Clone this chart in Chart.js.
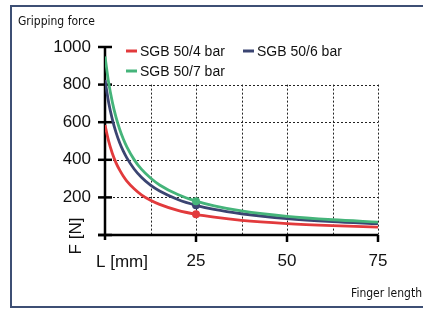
<!DOCTYPE html>
<html>
<head>
<meta charset="utf-8">
<script src="https://cdn.jsdelivr.net/npm/chart.js@4/dist/chart.umd.min.js"></script>
<style>
  html, body { margin: 0; padding: 0; background: #fff; overflow: hidden; }
  #wrap { width: 423px; height: 309px; }
</style>
</head>
<body>
<div id="wrap"><canvas id="c" width="423" height="309"></canvas></div>
<script>
// ---- data ----
const fingerLengths = [0, 1, 2, 3, 4, 5, 6, 8, 10, 12.5, 15, 20, 25, 30, 37.5, 50, 62.5, 75];
const sgb4bar = [585, 499, 435, 385, 346, 314, 287, 246, 214, 185, 163, 131, 110, 95, 78, 61, 50, 42];
const sgb6bar = [824, 705, 616, 547, 492, 447, 410, 351, 307, 265, 234, 189, 158, 136, 113, 87, 71, 60];
const sgb7bar = [950, 811, 708, 628, 564, 512, 469, 401, 350, 303, 266, 215, 180, 155, 128, 99, 81, 69];
const seriesNames = ['SGB 50/4 bar', 'SGB 50/6 bar', 'SGB 50/7 bar'];
const markedLength = 25;
const xTicks = [0, 25, 50, 75];
const yTicks = [0, 200, 400, 600, 800, 1000];
const gridXValues = [12.5, 25, 37.5, 50, 62.5, 75];
const gridYValues = [200, 400, 600, 800];
const gridTop = 800;
const titleText = 'Gripping force';
const xAxisCaption = 'L [mm]';
const yAxisCaption = 'F [N]';
const footerText = 'Finger length';

const colors = ['#e23a3c', '#3b4572', '#45b47a'];
const tickFont = '17px "Liberation Sans", Arial, sans-serif';

function toPoints(vals) { return fingerLengths.map((x, i) => ({ x: x, y: vals[i] })); }
function markerRadii() { return fingerLengths.map(x => x === markedLength ? 4 : 0); }

const decor = {
  id: 'decor',
  beforeDraw(chart) {
    const ctx = chart.ctx;
    ctx.save();
    ctx.fillStyle = '#fff';
    ctx.fillRect(0, 0, chart.width, chart.height);
    // frame: top, left and bottom edges only (open on the right)
    ctx.fillStyle = '#3d4f74';
    ctx.fillRect(10, 5, 413, 2);
    ctx.fillRect(10, 5, 2, 303);
    ctx.fillRect(10, 306, 413, 2);
    ctx.fillStyle = '#111';
    ctx.font = '12px "Liberation Sans Narrow", "DejaVu Sans Condensed", sans-serif';
    ctx.textBaseline = 'alphabetic';
    ctx.textAlign = 'left';
    ctx.fillText(titleText, 18, 25);
    ctx.textAlign = 'right';
    ctx.fillText(footerText, 422, 297);
    ctx.restore();
  },
  beforeDatasetsDraw(chart) {
    const ctx = chart.ctx;
    const xs = chart.scales.x, ys = chart.scales.y;
    const x0 = xs.getPixelForValue(0), x1 = xs.getPixelForValue(75);
    const y0 = ys.getPixelForValue(0), yTop = ys.getPixelForValue(gridTop);
    ctx.save();
    ctx.strokeStyle = '#222';
    ctx.lineWidth = 1;
    ctx.setLineDash([2, 2]);
    gridYValues.forEach(v => {
      const y = Math.round(ys.getPixelForValue(v)) + 0.5;
      ctx.beginPath(); ctx.moveTo(x0, y); ctx.lineTo(x1, y); ctx.stroke();
    });
    gridXValues.forEach(v => {
      const x = Math.round(xs.getPixelForValue(v)) + 0.5;
      ctx.beginPath(); ctx.moveTo(x, yTop); ctx.lineTo(x, y0); ctx.stroke();
    });
    ctx.setLineDash([]);
    ctx.strokeStyle = '#000';
    ctx.lineWidth = 2.5;
    ctx.beginPath();
    ctx.moveTo(x0, ys.getPixelForValue(1000));
    ctx.lineTo(x0, y0 + 5);
    ctx.moveTo(x0 - 7, y0);
    ctx.lineTo(x1, y0);
    ctx.stroke();
    yTicks.forEach(v => {
      const y = ys.getPixelForValue(v);
      ctx.beginPath(); ctx.moveTo(x0 - 7, y); ctx.lineTo(x0 + 7, y); ctx.stroke();
    });
    xTicks.forEach(v => {
      if (v === 0) return;
      const x = xs.getPixelForValue(v);
      ctx.beginPath(); ctx.moveTo(x, y0); ctx.lineTo(x, y0 + 7); ctx.stroke();
    });
    ctx.restore();
  },
  afterDraw(chart) {
    const ctx = chart.ctx;
    const xs = chart.scales.x, ys = chart.scales.y;
    const x0 = xs.getPixelForValue(0), y0 = ys.getPixelForValue(0);
    ctx.save();
    ctx.font = '14px "Liberation Sans", Arial, sans-serif';
    ctx.textBaseline = 'middle';
    ctx.textAlign = 'left';
    const items = [
      { i: 0, x: x0 + 21, y: 51 },
      { i: 1, x: x0 + 138, y: 51 },
      { i: 2, x: x0 + 21, y: 71 }
    ];
    items.forEach(it => {
      ctx.strokeStyle = colors[it.i];
      ctx.lineWidth = 3;
      ctx.beginPath(); ctx.moveTo(it.x, it.y); ctx.lineTo(it.x + 11, it.y); ctx.stroke();
      ctx.fillStyle = '#111';
      ctx.fillText(seriesNames[it.i], it.x + 14, it.y + 1);
    });
    ctx.font = tickFont;
    ctx.fillStyle = '#111';
    ctx.textAlign = 'center';
    ctx.textBaseline = 'middle';
    ctx.fillText(xAxisCaption, x0 + 17, y0 + 27);
    ctx.translate(76, y0 + 1);
    ctx.rotate(-Math.PI / 2);
    ctx.fillText(yAxisCaption, 0, 0);
    ctx.restore();
  }
};

const datasets = [sgb7bar, sgb6bar, sgb4bar].map((vals, k) => {
  const i = 2 - k;
  return {
    label: seriesNames[i],
    data: toPoints(vals),
    borderColor: colors[i],
    backgroundColor: colors[i],
    borderWidth: 2.8,
    pointRadius: markerRadii(),
    pointBorderWidth: 0,
    pointHoverRadius: 0,
    cubicInterpolationMode: 'monotone',
    fill: false
  };
});

new Chart(document.getElementById('c'), {
  type: 'line',
  data: { datasets: datasets },
  plugins: [decor],
  options: {
    responsive: false,
    animation: false,
    events: [],
    layout: { padding: { left: 0, right: 45, top: 47, bottom: 34 } },
    plugins: { legend: { display: false }, tooltip: { enabled: false }, title: { display: false } },
    scales: {
      x: {
        type: 'linear', min: 0, max: 75,
        afterBuildTicks: s => { s.ticks = xTicks.map(v => ({ value: v })); },
        afterFit: s => { s.height = 40; },
        grid: { display: false, drawTicks: false, tickLength: 0 },
        border: { display: false },
        ticks: {
          padding: 16, color: '#111', font: { family: '"Liberation Sans", Arial, sans-serif', size: 17 },
          maxRotation: 0, autoSkip: false,
          callback: v => v === 0 ? '' : String(v)
        }
      },
      y: {
        type: 'linear', min: 0, max: 1000,
        afterBuildTicks: s => { s.ticks = yTicks.map(v => ({ value: v })); },
        afterFit: s => { s.width = 105; },
        grid: { display: false, drawTicks: false, tickLength: 0 },
        border: { display: false },
        ticks: {
          padding: 14, color: '#111', font: { family: '"Liberation Sans", Arial, sans-serif', size: 17 },
          callback: v => v === 0 ? '' : String(v)
        }
      }
    }
  }
});
</script>
</body>
</html>
